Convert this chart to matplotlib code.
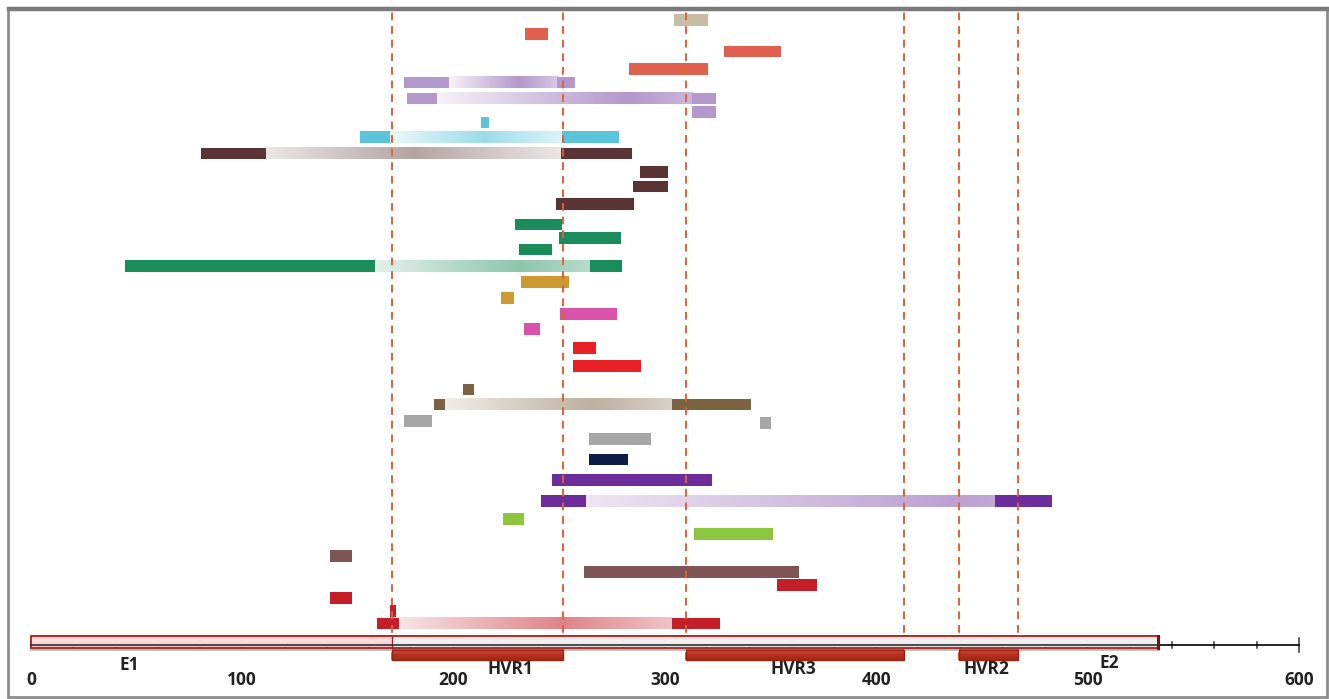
import numpy as np
import matplotlib
matplotlib.use('Agg')
from matplotlib import pyplot as plt
from matplotlib.patches import Rectangle
from matplotlib.colors import to_rgb

plt.rcParams['font.family'] = ['Open Sans', 'DejaVu Sans']

# genome positions of region borders
region_names = ['HVR1', 'HVR3', 'HVR2']
region_start = [171, 310, 439]
region_end = [252, 413, 467]
e1_end = 171
e2_end = 533.6
tick_values = [0, 100, 200, 300, 400, 500, 600]

# reads: track level, start, end, colour
solid_tracks = [
    (625, 304.3, 320.4, '#c9bca6'),
    (611, 234.0, 244.7, '#e0604f'),
    (593.5, 328.0, 355.0, '#e0604f'),
    (576, 283.0, 320.4, '#e0604f'),
    (533, 313.0, 324.0, '#b497cb'),
    (522.5, 213.0, 216.6, '#5bc4db'),
    (473, 288.0, 301.5, '#5a3434'),
    (458.5, 285.0, 301.5, '#5a3434'),
    (441, 248.3, 285.4, '#5a3434'),
    (420.5, 229.0, 251.5, '#1a8c5c'),
    (407, 249.7, 279.0, '#1a8c5c'),
    (395.5, 230.9, 246.8, '#1a8c5c'),
    (363, 231.7, 254.6, '#cc9a30'),
    (347, 222.4, 228.6, '#cc9a30'),
    (331, 250.4, 277.3, '#d953aa'),
    (316, 233.3, 240.9, '#d953aa'),
    (297, 256.5, 267.4, '#e82127'),
    (279, 256.5, 288.7, '#e82127'),
    (255.5, 204.4, 209.5, '#7b6240'),
    (224, 176.5, 190.0, '#a6a6a6'),
    (222, 345.0, 350.2, '#a6a6a6'),
    (206, 264.0, 293.4, '#a6a6a6'),
    (185.5, 264.0, 282.5, '#0d1d45'),
    (165, 246.6, 322.3, '#6c2d9a'),
    (126, 223.4, 233.3, '#8cc63f'),
    (111, 313.8, 351.0, '#8cc63f'),
    (89, 141.5, 152.0, '#7d5555'),
    (73, 261.7, 363.5, '#7d5555'),
    (60, 353.0, 372.2, '#c41e28'),
    (47, 141.5, 152.0, '#c41e28'),
    (34, 170.0, 172.7, '#c41e28'),
]

# split reads: level, left solid start/end, right solid start/end, colour, fade peak, fade strength
split_tracks = [
    (562.5, 176.5, 197.8, 249.0, 257.5, '#b497cb', 0.65, 1.0),
    (546.5, 178.0, 192.0, 313.0, 324.0, '#b497cb', 0.75, 1.0),
    (508, 155.7, 170.0, 251.3, 278.3, '#5bc4db', 0.55, 0.6),
    (491.5, 80.3, 111.0, 250.7, 284.4, '#5a3434', 0.5, 0.45),
    (379, 44.5, 162.8, 264.6, 279.7, '#1a8c5c', 0.67, 0.5),
    (240.5, 190.7, 196.0, 303.4, 340.7, '#7b6240', 0.65, 0.5),
    (144, 241.4, 262.7, 456.2, 483.2, '#6c2d9a', 0.9, 0.45),
    (21.5, 163.7, 174.2, 303.4, 326.0, '#c41e28', 0.6, 0.55),
]

# labels under the axis: text, position, baseline level
label_text = ['E1', 'HVR1', 'HVR3', 'HVR2', 'E2']
label_x = [46.4, 226.7, 361, 452, 510.4]
label_y = [-25, -28.5, -29, -29, -23]

bar_h = 11.5


def fade(ax, x0, x1, y, colour, peak, strength):
    t = np.linspace(0, 1, 300)
    w = 0.12 + (strength - 0.12) * (1 - np.abs(t - peak) / max(peak, 1 - peak))
    c = np.array(to_rgb(colour))
    rgb = 1 - w[:, None] * (1 - c)
    ax.imshow(rgb[None, :, :], extent=(x0, x1, y - bar_h / 2, y + bar_h / 2),
              aspect='auto', interpolation='bilinear', zorder=2)


def vfill(ax, x0, x1, y0, y1, top, mid, bottom, z):
    t = np.linspace(0, 1, 50)
    a, b, c = np.array(to_rgb(bottom)), np.array(to_rgb(mid)), np.array(to_rgb(top))
    rows = np.where(t[:, None] < 0.5, a + (b - a) * (t[:, None] * 2), b + (c - b) * (t[:, None] * 2 - 1))
    ax.imshow(rows[::-1][:, None, :], extent=(x0, x1, y0, y1), aspect='auto',
              interpolation='bilinear', zorder=z)


fig = plt.figure(figsize=(13.29, 6.99), dpi=100)
ax = fig.add_axes([0, 0, 1, 1])
ax.axis('off')

# dashed region borders
for x in sorted(set(region_start + region_end)):
    ax.plot([x, x], [-15, 637], color='#e0603a', lw=1.4, ls=(0, (4, 3)), zorder=4)

for y, a, b, col in solid_tracks:
    ax.barh(y, b - a, left=a, height=bar_h, color=col, zorder=3)

for y, a, b, c, d, col, pk, st in split_tracks:
    ax.barh(y, b - a, left=a, height=bar_h, color=col, zorder=3)
    ax.barh(y, d - c, left=c, height=bar_h, color=col, zorder=3)
    fade(ax, b, c, y, col, pk, st)

# axis line with ticks
ax.plot([0, 600], [0.5, 0.5], color='black', lw=1.2, zorder=5)
for v in range(0, 601, 20):
    s = 7 if v == 600 else 3
    ax.plot([v, v], [0.5 - s, 0.5 + s], color='#333333', lw=1.1, zorder=1)

# E1 / E2 box
vfill(ax, 0, e1_end, -2.5, 9, '#f7b8bc', '#fde2e2', '#f3c0c0', 6)
vfill(ax, e1_end, e2_end, -2.5, 9, '#d8d4d4', '#f4f2f2', '#e6e2e2', 6)
ax.add_patch(Rectangle((0, -2.5), e2_end, 11.5, fill=False, ec='#a82020', lw=1.3, zorder=7))
ax.plot([e1_end, e1_end], [-2.5, 9], color='#a82020', lw=1, zorder=7)
ax.plot([0, e2_end], [0.5, 0.5], color='#333333', lw=1.2, zorder=7)
ax.plot([e2_end, e2_end], [-2.5, 9], color='#7a1010', lw=2.2, zorder=7)
ax.plot([0, e2_end], [-4, -4], color='#b8b8b8', lw=2, zorder=5)

for a, b in zip(region_start, region_end):
    vfill(ax, a, b, -15, -4.5, '#d8583c', '#b83020', '#a02818', 6)
    ax.add_patch(Rectangle((a, -15), b - a, 10.5, fill=False, ec='#9a2412', lw=1, zorder=7))

for s, x, y in zip(label_text, label_x, label_y):
    ax.text(x, y, s, ha='center', va='baseline', fontsize=12.5, fontweight='bold', color='#222222')
for v in tick_values:
    ax.text(v, -40, str(v), ha='center', va='baseline', fontsize=12.5, fontweight='bold', color='#222222')

ax.set_xlim(-14.67, 614.3)
ax.set_ylim(-54, 645)

# grey frame round the picture
fig.patches.append(Rectangle((8 / 1329, 2 / 699), 1319 / 1329, 689 / 699, fill=False,
                             ec='#8c8c8c', lw=2, transform=fig.transFigure, figure=fig))
fig.patches.append(Rectangle((8 / 1329, 690 / 699), 1319 / 1329, 1 / 699, fill=False,
                             ec='#7a7a7a', lw=2.5, transform=fig.transFigure, figure=fig))

fig.savefig('out.png', dpi=100)
